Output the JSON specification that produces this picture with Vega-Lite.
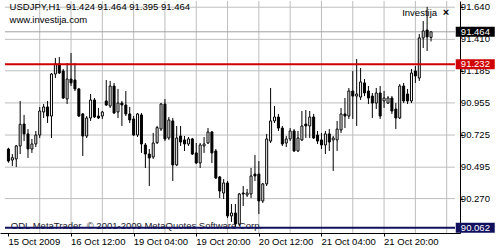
{
  "$schema": "https://vega.github.io/schema/vega-lite/v6.json",
  "width": 460,
  "height": 232,
  "autosize": {"type": "pad"},
  "padding": 0,
  "background": "white",
  "config": {
    "view": {"stroke": null},
    "font": "Liberation Sans",
    "axisX": {"title": null, "grid": false, "labels": false, "domainColor": "black", "tickColor": "black", "tickSize": 3},
    "axisY": {"title": null, "grid": false, "labels": false, "domainColor": "black", "tickColor": "black", "tickSize": 3}
  },
  "datasets": {
    "candles": [
      {"i":0,"open":90.625,"high":90.634,"low":90.527,"close":90.539},
      {"i":1,"open":90.546,"high":90.589,"low":90.503,"close":90.563},
      {"i":2,"open":90.554,"high":90.654,"low":90.496,"close":90.647},
      {"i":3,"open":90.647,"high":90.969,"low":90.589,"close":90.802},
      {"i":4,"open":90.804,"high":90.869,"low":90.682,"close":90.733},
      {"i":5,"open":90.733,"high":90.768,"low":90.561,"close":90.625},
      {"i":6,"open":90.625,"high":90.697,"low":90.597,"close":90.661},
      {"i":7,"open":90.661,"high":90.754,"low":90.639,"close":90.725},
      {"i":8,"open":90.725,"high":90.926,"low":90.704,"close":90.897},
      {"i":9,"open":90.890,"high":90.947,"low":90.847,"close":90.926},
      {"i":10,"open":90.926,"high":90.969,"low":90.811,"close":90.861},
      {"i":11,"open":90.861,"high":91.169,"low":90.704,"close":91.162},
      {"i":12,"open":91.162,"high":91.277,"low":91.133,"close":91.234},
      {"i":13,"open":91.234,"high":91.284,"low":91.162,"close":91.169},
      {"i":14,"open":91.183,"high":91.198,"low":90.983,"close":90.990},
      {"i":15,"open":90.983,"high":91.241,"low":90.947,"close":91.126},
      {"i":16,"open":91.126,"high":91.312,"low":91.076,"close":91.098},
      {"i":17,"open":91.119,"high":91.241,"low":91.040,"close":91.055},
      {"i":18,"open":91.055,"high":91.062,"low":90.854,"close":90.861},
      {"i":19,"open":90.876,"high":90.883,"low":90.575,"close":90.718},
      {"i":20,"open":90.718,"high":90.861,"low":90.704,"close":90.847},
      {"i":21,"open":90.847,"high":91.019,"low":90.826,"close":90.976},
      {"i":22,"open":90.976,"high":90.990,"low":90.847,"close":90.854},
      {"i":23,"open":90.861,"high":90.919,"low":90.840,"close":90.847},
      {"i":24,"open":90.861,"high":90.897,"low":90.840,"close":90.890},
      {"i":25,"open":90.969,"high":91.119,"low":90.933,"close":90.940},
      {"i":26,"open":90.933,"high":91.112,"low":90.919,"close":91.076},
      {"i":27,"open":91.076,"high":91.098,"low":90.876,"close":90.883},
      {"i":28,"open":90.890,"high":91.055,"low":90.847,"close":90.954},
      {"i":29,"open":90.954,"high":90.969,"low":90.790,"close":90.940},
      {"i":30,"open":90.940,"high":91.040,"low":90.861,"close":90.876},
      {"i":31,"open":90.876,"high":90.926,"low":90.811,"close":90.833},
      {"i":32,"open":90.840,"high":90.861,"low":90.718,"close":90.725},
      {"i":33,"open":90.725,"high":90.883,"low":90.711,"close":90.876},
      {"i":34,"open":90.869,"high":90.883,"low":90.597,"close":90.661},
      {"i":35,"open":90.654,"high":90.668,"low":90.489,"close":90.589},
      {"i":36,"open":90.589,"high":90.625,"low":90.360,"close":90.561},
      {"i":37,"open":90.568,"high":90.740,"low":90.554,"close":90.668},
      {"i":38,"open":90.670,"high":90.790,"low":90.661,"close":90.778},
      {"i":39,"open":90.768,"high":90.954,"low":90.754,"close":90.947},
      {"i":40,"open":90.947,"high":90.983,"low":90.682,"close":90.697},
      {"i":41,"open":90.704,"high":90.854,"low":90.690,"close":90.833},
      {"i":42,"open":90.826,"high":90.847,"low":90.396,"close":90.511},
      {"i":43,"open":90.511,"high":90.790,"low":90.503,"close":90.704},
      {"i":44,"open":90.718,"high":90.790,"low":90.647,"close":90.675},
      {"i":45,"open":90.690,"high":90.718,"low":90.611,"close":90.661},
      {"i":46,"open":90.661,"high":90.711,"low":90.647,"close":90.697},
      {"i":47,"open":90.697,"high":90.704,"low":90.582,"close":90.589},
      {"i":48,"open":90.597,"high":90.668,"low":90.518,"close":90.525},
      {"i":49,"open":90.525,"high":90.668,"low":90.489,"close":90.654},
      {"i":50,"open":90.647,"high":90.711,"low":90.597,"close":90.661},
      {"i":51,"open":90.668,"high":90.775,"low":90.661,"close":90.747},
      {"i":52,"open":90.747,"high":90.754,"low":90.525,"close":90.597},
      {"i":53,"open":90.611,"high":90.625,"low":90.410,"close":90.418},
      {"i":54,"open":90.425,"high":90.432,"low":90.274,"close":90.324},
      {"i":55,"open":90.310,"high":90.410,"low":90.267,"close":90.382},
      {"i":56,"open":90.382,"high":90.396,"low":90.131,"close":90.146},
      {"i":57,"open":90.146,"high":90.231,"low":90.103,"close":90.167},
      {"i":58,"open":90.167,"high":90.231,"low":90.062,"close":90.088},
      {"i":59,"open":90.088,"high":90.310,"low":90.074,"close":90.303},
      {"i":60,"open":90.310,"high":90.360,"low":90.217,"close":90.303},
      {"i":61,"open":90.296,"high":90.339,"low":90.282,"close":90.310},
      {"i":62,"open":90.303,"high":90.489,"low":90.274,"close":90.432},
      {"i":63,"open":90.446,"high":90.582,"low":90.396,"close":90.432},
      {"i":64,"open":90.446,"high":90.539,"low":90.160,"close":90.253},
      {"i":65,"open":90.253,"high":90.382,"low":90.239,"close":90.375},
      {"i":66,"open":90.375,"high":90.733,"low":90.360,"close":90.697},
      {"i":67,"open":90.682,"high":91.062,"low":90.668,"close":90.826},
      {"i":68,"open":90.826,"high":90.933,"low":90.811,"close":90.854},
      {"i":69,"open":90.854,"high":90.876,"low":90.754,"close":90.775},
      {"i":70,"open":90.775,"high":90.790,"low":90.647,"close":90.661},
      {"i":71,"open":90.668,"high":90.718,"low":90.639,"close":90.697},
      {"i":72,"open":90.697,"high":90.775,"low":90.682,"close":90.754},
      {"i":73,"open":90.754,"high":90.768,"low":90.604,"close":90.611},
      {"i":74,"open":90.611,"high":90.754,"low":90.604,"close":90.704},
      {"i":75,"open":90.690,"high":90.897,"low":90.682,"close":90.790},
      {"i":76,"open":90.804,"high":90.904,"low":90.704,"close":90.790},
      {"i":77,"open":90.790,"high":90.897,"low":90.704,"close":90.854},
      {"i":78,"open":90.854,"high":90.876,"low":90.697,"close":90.704},
      {"i":79,"open":90.725,"high":90.754,"low":90.661,"close":90.682},
      {"i":80,"open":90.690,"high":90.740,"low":90.625,"close":90.654},
      {"i":81,"open":90.654,"high":90.754,"low":90.589,"close":90.733},
      {"i":82,"open":90.733,"high":90.768,"low":90.611,"close":90.675},
      {"i":83,"open":90.690,"high":90.718,"low":90.468,"close":90.704},
      {"i":84,"open":90.690,"high":90.826,"low":90.611,"close":90.768},
      {"i":85,"open":90.761,"high":90.919,"low":90.740,"close":90.876},
      {"i":86,"open":90.876,"high":90.990,"low":90.775,"close":90.861},
      {"i":87,"open":90.861,"high":91.062,"low":90.840,"close":91.040},
      {"i":88,"open":91.040,"high":91.183,"low":90.840,"close":91.004},
      {"i":89,"open":91.004,"high":91.269,"low":90.790,"close":91.019},
      {"i":90,"open":90.997,"high":91.205,"low":90.976,"close":91.105},
      {"i":91,"open":91.098,"high":91.126,"low":91.004,"close":91.026},
      {"i":92,"open":91.040,"high":91.076,"low":90.947,"close":90.990},
      {"i":93,"open":91.004,"high":91.026,"low":90.847,"close":90.954},
      {"i":94,"open":90.954,"high":91.062,"low":90.911,"close":91.026},
      {"i":95,"open":91.026,"high":91.076,"low":90.840,"close":90.861},
      {"i":96,"open":90.969,"high":91.040,"low":90.919,"close":90.990},
      {"i":97,"open":90.954,"high":91.004,"low":90.947,"close":90.990},
      {"i":98,"open":90.990,"high":91.004,"low":90.876,"close":90.897},
      {"i":99,"open":90.911,"high":90.954,"low":90.768,"close":90.847},
      {"i":100,"open":90.847,"high":91.090,"low":90.840,"close":91.076},
      {"i":101,"open":91.076,"high":91.098,"low":90.954,"close":90.969},
      {"i":102,"open":91.019,"high":91.055,"low":90.947,"close":90.969},
      {"i":103,"open":90.969,"high":91.198,"low":90.954,"close":91.169},
      {"i":104,"open":91.183,"high":91.219,"low":91.098,"close":91.148},
      {"i":105,"open":91.133,"high":91.448,"low":91.112,"close":91.420},
      {"i":106,"open":91.420,"high":91.541,"low":91.348,"close":91.470},
      {"i":107,"open":91.477,"high":91.642,"low":91.327,"close":91.427},
      {"i":108,"open":91.424,"high":91.464,"low":91.395,"close":91.464}
    ],
    "levels": [
      {"price": 91.464, "kind": "bid"},
      {"price": 91.232, "kind": "resistance"},
      {"price": 90.062, "kind": "support"}
    ],
    "vgrid": [{"v":8},{"v":16},{"v":24},{"v":32},{"v":40},{"v":48},{"v":56},{"v":64},{"v":72},{"v":80},{"v":88},{"v":96},{"v":104},{"v":112}],
    "yticks": [{"v":90.27},{"v":90.495},{"v":90.725},{"v":90.955},{"v":91.185},{"v":91.41},{"v":91.64}],
    "xticks": [
      {"i":0,"label":"15 Oct 2009"},
      {"i":16,"label":"16 Oct 12:00"},
      {"i":32,"label":"19 Oct 04:00"},
      {"i":48,"label":"19 Oct 20:00"},
      {"i":64,"label":"20 Oct 12:00"},
      {"i":80,"label":"21 Oct 04:00"},
      {"i":96,"label":"21 Oct 20:00"}
    ]
  },
  "layer": [
    {
      "data": {"name": "candles"},
      "mark": {"type": "rule", "color": "black", "strokeWidth": 1},
      "encoding": {
        "x": {
          "field": "i", "type": "quantitative",
          "scale": {"domain": [-0.875, 114.125], "nice": false, "zero": false},
          "axis": {"values": [0, 16, 32, 48, 64, 80, 96], "labels": false, "grid": false}
        },
        "y": {
          "field": "low", "type": "quantitative",
          "scale": {"domain": [90.0238, 91.6845], "nice": false, "zero": false},
          "axis": {"orient": "right", "values": [90.27, 90.495, 90.725, 90.955, 91.185, 91.41, 91.64], "labels": false, "grid": false}
        },
        "y2": {"field": "high"},
        "opacity": {"value": 0}
      }
    },
    {
      "data": {"name": "vgrid"},
      "mark": {"type": "rule", "color": "#bebebe", "strokeWidth": 1},
      "encoding": {
        "x": {"field": "v", "type": "quantitative"},
        "y": {"datum": 91.6845, "type": "quantitative"},
        "y2": {"datum": 90.0238}
      }
    },
    {
      "data": {"name": "yticks"},
      "mark": {"type": "rule", "color": "#bebebe", "strokeWidth": 1},
      "encoding": {
        "y": {"field": "v", "type": "quantitative"},
        "x": {"datum": -0.875, "type": "quantitative"},
        "x2": {"datum": 114.125}
      }
    },
    {
      "data": {"name": "yticks"},
      "mark": {"type": "text", "align": "left", "baseline": "middle", "fontSize": 9.5, "color": "black"},
      "encoding": {
        "y": {"field": "v", "type": "quantitative"},
        "x": {"datum": 115.625, "type": "quantitative"},
        "text": {"field": "v", "type": "quantitative", "format": ".3f"}
      }
    },
    {
      "data": {"name": "xticks"},
      "mark": {"type": "text", "align": "left", "baseline": "top", "fontSize": 9.5, "color": "black"},
      "encoding": {
        "x": {"field": "i", "type": "quantitative"},
        "y": {"datum": 89.996, "type": "quantitative"},
        "text": {"field": "label"}
      }
    },
    {
      "data": {"values": [{"t": "ODL MetaTrader\u00a0 \u00a9 2001-2009 MetaQuotes Software Corp."}]},
      "mark": {"type": "text", "align": "left", "baseline": "alphabetic", "fontSize": 9.5, "color": "#1a1a2a"},
      "encoding": {
        "x": {"datum": 0.625, "type": "quantitative"},
        "y": {"datum": 90.056, "type": "quantitative"},
        "text": {"field": "t"}
      }
    },
    {
      "data": {"values": [{"t": "USDJPY,H1\u00a0 91.424 91.464 91.395 91.464"}]},
      "mark": {"type": "text", "align": "left", "baseline": "alphabetic", "fontSize": 9.5, "color": "black"},
      "encoding": {
        "x": {"datum": 0.3, "type": "quantitative"},
        "y": {"datum": 91.6165, "type": "quantitative"},
        "text": {"field": "t"}
      }
    },
    {
      "data": {"values": [{"t": "www.investija.com"}]},
      "mark": {"type": "text", "align": "left", "baseline": "alphabetic", "fontSize": 9.5, "color": "black"},
      "encoding": {
        "x": {"datum": 0.3, "type": "quantitative"},
        "y": {"datum": 91.527, "type": "quantitative"},
        "text": {"field": "t"}
      }
    },
    {
      "data": {"name": "levels"},
      "transform": [{"filter": "datum.kind == 'bid'"}],
      "mark": {"type": "rule", "color": "#a0a0a0", "strokeWidth": 1},
      "encoding": {
        "y": {"field": "price", "type": "quantitative"},
        "x": {"datum": -0.875, "type": "quantitative"},
        "x2": {"datum": 114.125}
      }
    },
    {
      "data": {"name": "candles"},
      "mark": {"type": "rule", "color": "black", "strokeWidth": 1},
      "encoding": {
        "x": {"field": "i", "type": "quantitative"},
        "y": {"field": "low", "type": "quantitative"},
        "y2": {"field": "high"}
      }
    },
    {
      "data": {"name": "candles"},
      "mark": {"type": "bar", "size": 2, "stroke": "black", "strokeWidth": 1},
      "encoding": {
        "x": {"field": "i", "type": "quantitative"},
        "y": {"field": "open", "type": "quantitative"},
        "y2": {"field": "close"},
        "fill": {"condition": {"test": "datum.close < datum.open", "value": "black"}, "value": "white"}
      }
    },
    {
      "data": {"name": "levels"},
      "transform": [{"filter": "datum.kind != 'bid'"}],
      "mark": {"type": "rule", "strokeWidth": 2},
      "encoding": {
        "y": {"field": "price", "type": "quantitative"},
        "x": {"datum": -0.875, "type": "quantitative"},
        "x2": {"datum": 114.125},
        "color": {"field": "kind", "type": "nominal", "scale": {"domain": ["bid", "resistance", "support"], "range": ["#000000", "#d00000", "#10105e"]}, "legend": null}
      }
    },
    {
      "data": {"name": "levels"},
      "mark": {"type": "tick", "orient": "horizontal", "size": 39, "thickness": 10, "opacity": 1},
      "encoding": {
        "x": {"datum": 119.3, "type": "quantitative"},
        "y": {"field": "price", "type": "quantitative"},
        "color": {"field": "kind", "type": "nominal", "scale": {"domain": ["bid", "resistance", "support"], "range": ["#000000", "#d00000", "#10105e"]}, "legend": null}
      }
    },
    {
      "data": {"name": "levels"},
      "mark": {"type": "text", "align": "left", "baseline": "middle", "fontSize": 9.5, "color": "white"},
      "encoding": {
        "x": {"datum": 115.625, "type": "quantitative"},
        "y": {"field": "price", "type": "quantitative"},
        "text": {"field": "price", "type": "quantitative", "format": ".3f"}
      }
    },
    {
      "data": {"values": [{"t": "Investija"}]},
      "mark": {"type": "text", "align": "left", "baseline": "alphabetic", "fontSize": 9.5, "color": "black"},
      "encoding": {
        "x": {"datum": 100.625, "type": "quantitative"},
        "y": {"datum": 91.5807, "type": "quantitative"},
        "text": {"field": "t"}
      }
    },
    {
      "data": {"values": [{"t": "\u00d7"}]},
      "mark": {"type": "text", "align": "left", "baseline": "alphabetic", "fontSize": 11, "fontWeight": "bold", "color": "black"},
      "encoding": {
        "x": {"datum": 111.0, "type": "quantitative"},
        "y": {"datum": 91.5807, "type": "quantitative"},
        "text": {"field": "t"}
      }
    }
  ]
}
